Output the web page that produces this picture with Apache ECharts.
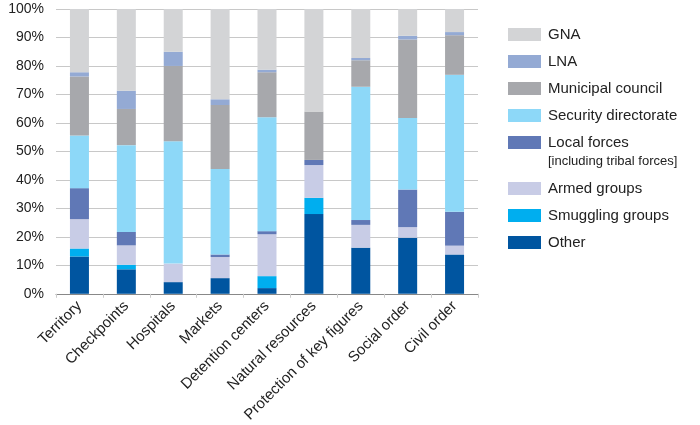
<!DOCTYPE html>
<html><head><meta charset="utf-8">
<script src="https://cdn.jsdelivr.net/npm/echarts@6/dist/echarts.min.js"></script>
<style>html,body{margin:0;padding:0;background:#fff}#c{width:700px;height:425px}</style>
</head><body><div id="c"></div>
<script>
const categories = ['Territory','Checkpoints','Hospitals','Markets','Detention centers','Natural resources','Protection of key figures','Social order','Civil order'];
const other      = [13.1, 8.6, 4.1, 5.5, 2.0, 28.0, 16.2, 19.7, 13.8];
const smuggling  = [2.8, 1.6, 0, 0, 4.2, 5.7, 0, 0, 0];
const armed      = [10.3, 6.8, 6.5, 7.4, 14.7, 11.5, 8.0, 3.7, 3.1];
const local      = [10.9, 4.7, 0, 0.9, 1.1, 1.8, 1.7, 13.2, 11.9];
const security   = [18.5, 30.5, 43.0, 30.0, 40.0, 0, 46.8, 25.1, 48.1];
const municipal  = [20.7, 12.7, 26.4, 22.5, 15.8, 17.0, 9.3, 27.6, 13.9];
const lna        = [1.5, 6.4, 5.0, 2.0, 0.9, 0, 0.8, 1.3, 1.1];
const gna        = [22.2, 28.7, 15.0, 31.7, 21.3, 36.0, 17.2, 9.4, 8.1];
const yTicks = [0,10,20,30,40,50,60,70,80,90,100];

const font = 'Liberation Sans, Arial, sans-serif';
const seriesDefs = [
  ['Other', other, '#0055a0'],
  ['Smuggling groups', smuggling, '#00aeef'],
  ['Armed groups', armed, '#c8cce6'],
  ['Local forces', local, '#6078b6'],
  ['Security directorate', security, '#8dd8f8'],
  ['Municipal council', municipal, '#a7a8ac'],
  ['LNA', lna, '#94aad4'],
  ['GNA', gna, '#d3d4d6']
];
const chart = echarts.init(document.getElementById('c'), null, {renderer:'canvas'});
const legendCommon = {
  orient:'vertical', left:503, itemWidth:33, itemHeight:13, itemGap:12,
  icon:'rect', textStyle:{fontFamily:font, fontSize:15, color:'#222', padding:[0,0,0,2]},
  selectedMode:false
};
chart.setOption({
  animation:false,
  grid:{left:56, right:222, top:9, bottom:130},
  legend:[
    Object.assign({}, legendCommon, {top:22, data:['GNA','LNA','Municipal council','Security directorate','Local forces']}),
    Object.assign({}, legendCommon, {top:176, data:['Armed groups','Smuggling groups','Other']})
  ],
  graphic:[{type:'text', left:548, top:155, style:{text:'[including tribal forces]', font:'13px '+font, fill:'#222'}}],
  xAxis:{type:'category', data:categories,
    axisLine:{lineStyle:{color:'#888'}},
    axisTick:{show:true, length:4, lineStyle:{color:'#ccc'}},
    axisLabel:{rotate:45, fontFamily:font, fontSize:15, color:'#222', margin:10, interval:0}},
  yAxis:{type:'value', min:0, max:100, interval:10,
    axisLine:{show:false}, axisTick:{show:false},
    axisLabel:{formatter:v=>v+'%', fontFamily:font, fontSize:14, color:'#222', margin:12},
    splitLine:{lineStyle:{color:'#c8c8c8', width:1}}},
  series: seriesDefs.map(([n,d,c])=>({name:n, type:'bar', stack:'s', data:d, barWidth:19,
    itemStyle:{color:c}, emphasis:{disabled:true}}))
});
</script></body></html>
